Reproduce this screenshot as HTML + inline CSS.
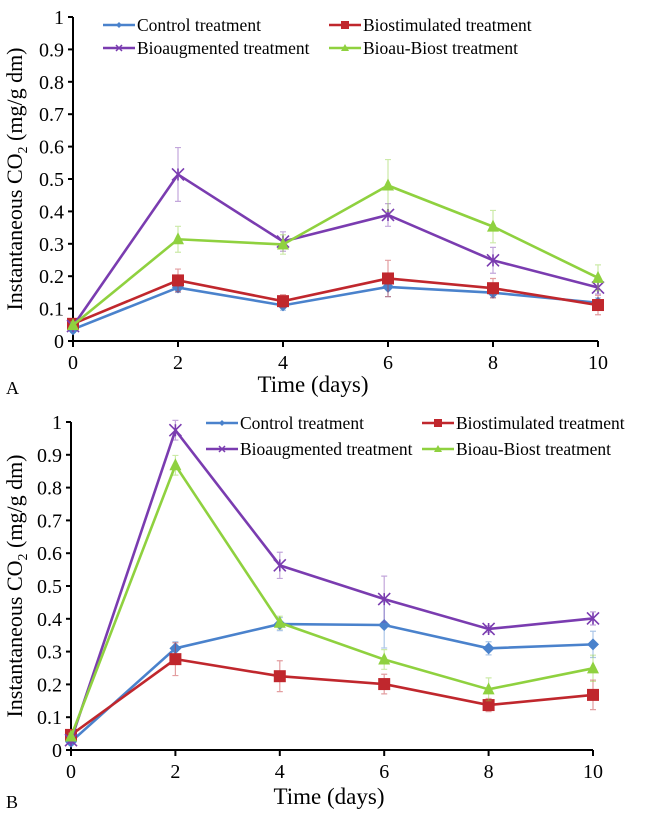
<!DOCTYPE html>
<html><head><meta charset="utf-8"><style>
html,body{margin:0;padding:0;background:#fff;width:645px;height:816px;overflow:hidden}
svg{display:block;font-family:"Liberation Serif",serif}
</style></head><body>
<svg id="fig" width="645" height="816" viewBox="0 0 645 816"></svg>
<script>
const days=[0,2,4,6,8,10];
const yTicks=[0,0.1,0.2,0.3,0.4,0.5,0.6,0.7,0.8,0.9,1];
const yTickLabels=["0","0.1","0.2","0.3","0.4","0.5","0.6","0.7","0.8","0.9","1"];
const seriesNames=["Control treatment","Biostimulated treatment","Bioaugmented treatment","Bioau-Biost treatment"];
const aControl=[0.036,0.165,0.11,0.167,0.149,0.118];
const aBiostim=[0.053,0.187,0.123,0.193,0.163,0.111];
const aBioaug=[0.046,0.514,0.307,0.389,0.249,0.165];
const aBioauBiost=[0.049,0.314,0.298,0.48,0.353,0.195];
const aControlErr=[0.01,0.015,0.015,0.03,0.015,0.015];
const aBiostimErr=[0.01,0.035,0.02,0.056,0.03,0.03];
const aBioaugErr=[0.01,0.083,0.03,0.035,0.04,0.02];
const aBioauBiostErr=[0.01,0.04,0.03,0.08,0.05,0.04];
const bControl=[0.025,0.31,0.384,0.381,0.31,0.322];
const bBiostim=[0.046,0.277,0.225,0.201,0.137,0.168];
const bBioaug=[0.03,0.975,0.563,0.46,0.369,0.401];
const bBioauBiost=[0.041,0.868,0.388,0.276,0.185,0.249];
const bControlErr=[0.01,0.02,0.02,0.07,0.02,0.04];
const bBiostimErr=[0.01,0.05,0.047,0.03,0.02,0.045];
const bBioaugErr=[0.01,0.03,0.04,0.07,0.01,0.02];
const bBioauBiostErr=[0.01,0.03,0.02,0.03,0.035,0.04];

const NS="http://www.w3.org/2000/svg";
const svg=document.getElementById('fig');
const colors=["#4a82cc","#c0272d","#7a3cb0","#8fd13f"];
function mk(tag,attrs,parent){const e=document.createElementNS(NS,tag);for(const k in attrs)e.setAttribute(k,attrs[k]);(parent||svg).appendChild(e);return e;}

function marker(g,kind,x,y,c){
  let m;
  if(kind===0){m=mk('polygon',{points:`${x},${y-6} ${x+6},${y} ${x},${y+6} ${x-6},${y}`,fill:c},g);}
  else if(kind===1){m=mk('rect',{x:x-6,y:y-6,width:12,height:12,fill:c},g);}
  else if(kind===2){m=mk('path',{d:`M${x-6},${y-6}L${x+6},${y+6}M${x-6},${y+6}L${x+6},${y-6}M${x},${y-6}L${x},${y+6}`,stroke:c,'stroke-width':1.6,fill:'none'},g);}
  else {m=mk('polygon',{points:`${x},${y-7} ${x+6},${y+5} ${x-6},${y+5}`,fill:c},g);}
  
  
}

function chart(cfg){
  const g=mk('g',{});
  
  
  const X=d=>cfg.x0+(cfg.x1-cfg.x0)*d/10;
  const Y=v=>cfg.y0-(cfg.y0-cfg.y1)*v;
  // axes
  const ya=mk('line',{x1:cfg.x0,y1:Y(1),x2:cfg.x0,y2:cfg.y0,stroke:'#000','stroke-width':2},g);
  
  const xa=mk('line',{x1:cfg.x0,y1:cfg.y0,x2:cfg.x1,y2:cfg.y0,stroke:'#000','stroke-width':2},g);
  
  yTicks.forEach((t,i)=>{
    mk('line',{x1:cfg.x0-5,y1:Y(t),x2:cfg.x0,y2:Y(t),stroke:'#000','stroke-width':2},g);
    const tx=mk('text',{x:cfg.x0-9,y:Y(t)+7,'text-anchor':'end','font-size':20},g);
    tx.textContent=yTickLabels[i];
    
  });
  days.forEach(d=>{
    mk('line',{x1:X(d),y1:cfg.y0,x2:X(d),y2:cfg.y0+6,stroke:'#000','stroke-width':2},g);
    const tx=mk('text',{x:X(d),y:cfg.y0+28,'text-anchor':'middle','font-size':20},g);
    tx.textContent=String(d);
    
  });
  const xt=mk('text',{x:cfg.xtX,y:cfg.xtY,'text-anchor':'middle','font-size':23},g);
  xt.textContent='Time (days)';
  
  const ytc=(cfg.y0+Y(1))/2;
  const yt=mk('text',{x:0,y:0,'text-anchor':'middle','font-size':22,transform:`translate(22,${ytc}) rotate(-90)`},g);
  yt.innerHTML='Instantaneous CO<tspan font-size="14" dy="5">2</tspan><tspan dy="-5"> (mg/g dm)</tspan>';
  
  const lab=mk('text',{x:6,y:cfg.labY,'font-size':18},g);
  lab.textContent=cfg.label;
  
  // series
  cfg.series.forEach((s,si)=>{
    const c=colors[si];
    const sg=mk('g',{},g);
    
    
    s.forEach((v,i)=>{
      const e=cfg.errs[si][i];
      const eb=mk('path',{d:`M${X(days[i])},${Y(v-e)}L${X(days[i])},${Y(v+e)}M${X(days[i])-3},${Y(v+e)}L${X(days[i])+3},${Y(v+e)}M${X(days[i])-3},${Y(v-e)}L${X(days[i])+3},${Y(v-e)}`,stroke:c,'stroke-opacity':0.45,'stroke-width':1.2,fill:'none'},sg);
      
    });
    const pl=mk('polyline',{points:s.map((v,i)=>`${X(days[i])},${Y(v)}`).join(' '),fill:'none',stroke:c,'stroke-width':2.6},sg);
    
    s.forEach((v,i)=>marker(sg,si,X(days[i]),Y(v),c));
  });
  // legend
  const pos=[[cfg.lx1,cfg.ly1],[cfg.lx2,cfg.ly1],[cfg.lx1,cfg.ly2],[cfg.lx2,cfg.ly2]];
  const order=[0,1,2,3];
  order.forEach((si,k)=>{
    const [lx,ly]=pos[k];
    const lg=mk('g',{},g);
    
    mk('line',{x1:lx,y1:ly,x2:lx+32,y2:ly,stroke:colors[si],'stroke-width':2.6},lg);
    const k2=si===3?3:si;
    if(si===1)mk('rect',{x:lx+12,y:ly-4,width:8,height:8,fill:colors[si]},lg);
    else if(si===0)mk('polygon',{points:`${lx+16},${ly-3} ${lx+19},${ly} ${lx+16},${ly+3} ${lx+13},${ly}`,fill:colors[si]},lg);
    else if(si===2)mk('path',{d:`M${lx+13},${ly-3}L${lx+19},${ly+3}M${lx+13},${ly+3}L${lx+19},${ly-3}`,stroke:colors[si],'stroke-width':1.5},lg);
    else mk('polygon',{points:`${lx+16},${ly-4} ${lx+20},${ly+3} ${lx+12},${ly+3}`,fill:colors[si]},lg);
    const t=mk('text',{x:lx+34,y:ly+6,'font-size':17.5},lg);
    t.textContent=seriesNames[si];
  });
}

chart({name:'chart-a',label:'A',x0:73,x1:598,y0:341,y1:17,xtX:313,xtY:392,labY:394,
  series:[aControl,aBiostim,aBioaug,aBioauBiost],errs:[aControlErr,aBiostimErr,aBioaugErr,aBioauBiostErr],
  lx1:103,lx2:329,ly1:25,ly2:48});
chart({name:'chart-b',label:'B',x0:71,x1:593,y0:750,y1:422,xtX:329,xtY:804,labY:808,
  series:[bControl,bBiostim,bBioaug,bBioauBiost],errs:[bControlErr,bBiostimErr,bBioaugErr,bBioauBiostErr],
  lx1:206,lx2:422,ly1:423,ly2:449});
</script>
</body></html>
